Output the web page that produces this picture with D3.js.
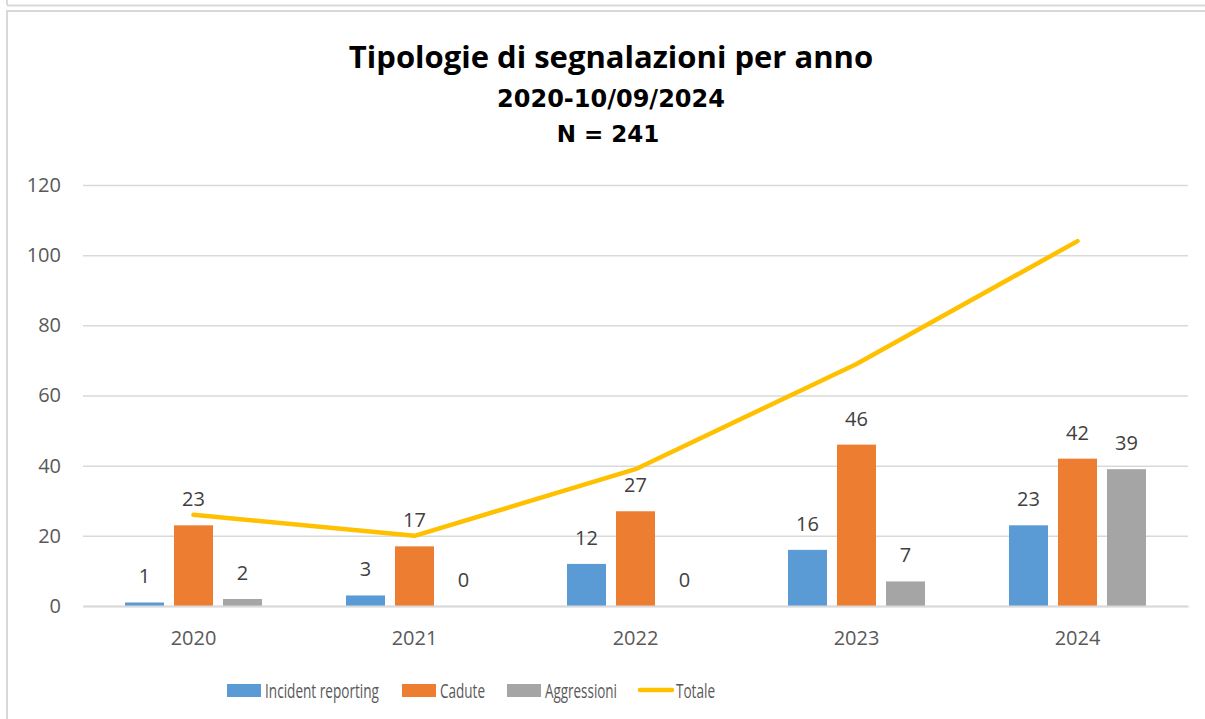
<!DOCTYPE html>
<html>
<head>
<meta charset="utf-8">
<script src="https://cdn.jsdelivr.net/npm/d3@7"></script>
<style>
  body { margin: 0; background: #fff; }
  svg { display: block; font-family: "Open Sans", "Noto Sans", sans-serif; }
</style>
</head>
<body>
<div id="chart"></div>
<script>
// --- Data ---
const years = ["2020", "2021", "2022", "2023", "2024"];
const incidentReporting = [1, 3, 12, 16, 23];
const cadute = [23, 17, 27, 46, 42];
const aggressioni = [2, 0, 0, 7, 39];
const totale = [26, 20, 39, 69, 104];
const yTicks = [0, 20, 40, 60, 80, 100, 120];

const seriesNames = ["Incident reporting", "Cadute", "Aggressioni"];
const seriesColors = ["#5B9BD5", "#ED7D31", "#A5A5A5"];
const lineColor = "#FFC000";

const W = 1205, H = 719;
const margin = { top: 185, right: 17, bottom: 113, left: 83 };
const width = W - margin.left - margin.right;
const height = H - margin.top - margin.bottom;
const labelFont = "'Open Sans', sans-serif";

const svg = d3.select("#chart").append("svg")
    .attr("width", W).attr("height", H);

// frame lines (chart container borders)
svg.append("line").attr("x1", 7).attr("x2", W).attr("y1", 5.5).attr("y2", 5.5)
    .attr("stroke", "#d9d9d9").attr("stroke-width", 2);
svg.append("line").attr("x1", 7).attr("x2", 7).attr("y1", 0).attr("y2", 5)
    .attr("stroke", "#d9d9d9").attr("stroke-width", 2);
svg.append("path").attr("d", `M7,${H} V11 H${W}`)
    .attr("fill", "none").attr("stroke", "#d9d9d9").attr("stroke-width", 2);

// Titles
svg.append("text").attr("x", 611).attr("y", 68).attr("text-anchor", "middle")
    .attr("font-size", 31).attr("font-weight", 700).attr("fill", "#000")
    .text("Tipologie di segnalazioni per anno");
svg.append("text").attr("x", 611).attr("y", 107).attr("text-anchor", "middle")
    .attr("font-family", "'DejaVu Sans', sans-serif")
    .attr("font-size", 24).attr("font-weight", 700).attr("fill", "#000")
    .text("2020-10/09/2024");
svg.append("text").attr("x", 608).attr("y", 142).attr("text-anchor", "middle")
    .attr("font-family", "'DejaVu Sans', sans-serif")
    .attr("font-size", 23).attr("font-weight", 700).attr("fill", "#000")
    .text("N = 241");

const g = svg.append("g").attr("transform", `translate(${margin.left},${margin.top})`);

// Scales
const x = d3.scaleBand().domain(years).range([0, width]).paddingInner(0).paddingOuter(0);
const y = d3.scaleLinear().domain([0, 120]).range([height, 0]);
const barW = 39, barGap = 10;
const x1 = d3.scaleBand().domain(seriesNames).range([0, barW * 3 + barGap * 2]).paddingInner(barGap / (barW + barGap));
const groupOffset = (x.bandwidth() - (barW * 3 + barGap * 2)) / 2;

// Gridlines + y axis
const yAxis = d3.axisLeft(y).tickValues(yTicks).tickSize(-width).tickPadding(22);
g.append("g").call(yAxis)
    .call(s => s.select(".domain").remove())
    .call(s => s.selectAll(".tick line").attr("stroke", "#d9d9d9").attr("stroke-width", 1.5))
    .call(s => s.selectAll(".tick text").attr("fill", "#595959").attr("font-size", 20)
        .attr("font-family", labelFont));

// Bars
const seriesData = [incidentReporting, cadute, aggressioni];
const barRows = [];
years.forEach((yr, i) => {
    seriesNames.forEach((s, j) => {
        barRows.push({ year: yr, series: s, value: seriesData[j][i], color: seriesColors[j] });
    });
});

g.selectAll("rect.bar").data(barRows).join("rect")
    .attr("class", "bar")
    .attr("x", d => x(d.year) + groupOffset + x1(d.series))
    .attr("y", d => y(d.value))
    .attr("width", x1.bandwidth())
    .attr("height", d => height - y(d.value))
    .attr("fill", d => d.color);

// x axis
const xAxis = d3.axisBottom(x).tickSize(0).tickPadding(25);
g.append("g").attr("transform", `translate(0,${height})`).call(xAxis)
    .call(s => s.select(".domain").attr("stroke", "#d9d9d9").attr("stroke-width", 2))
    .call(s => s.selectAll(".tick text").attr("fill", "#595959").attr("font-size", 20)
        .attr("font-family", labelFont));

// Data labels
g.selectAll("text.lbl").data(barRows).join("text")
    .attr("class", "lbl")
    .attr("x", d => x(d.year) + groupOffset + x1(d.series) + x1.bandwidth() / 2)
    .attr("y", d => y(d.value) - 19)
    .attr("text-anchor", "middle")
    .attr("font-size", 20).attr("fill", "#404040")
    .text(d => d.value);

// Totale line
const line = d3.line()
    .x((d, i) => x(years[i]) + x.bandwidth() / 2)
    .y(d => y(d));
g.append("path").datum(totale)
    .attr("d", line)
    .attr("fill", "none")
    .attr("stroke", lineColor)
    .attr("stroke-width", 4.5)
    .attr("stroke-linecap", "round")
    .attr("stroke-linejoin", "round");

// Legend (text squeezed to mimic the narrow original font)
const legendItems = [
    { name: "Incident reporting", color: seriesColors[0], type: "rect", x: 227, w: 114 },
    { name: "Cadute", color: seriesColors[1], type: "rect", x: 402, w: 45 },
    { name: "Aggressioni", color: seriesColors[2], type: "rect", x: 507, w: 72 },
    { name: "Totale", color: lineColor, type: "line", x: 638, w: 39 }
];
const legend = svg.append("g").attr("transform", "translate(0,690)");
legendItems.forEach(it => {
    if (it.type === "rect") {
        legend.append("rect").attr("x", it.x).attr("y", -6).attr("width", 34).attr("height", 13).attr("fill", it.color);
    } else {
        legend.append("line").attr("x1", it.x + 2).attr("x2", it.x + 34).attr("y1", 0).attr("y2", 0)
            .attr("stroke", it.color).attr("stroke-width", 4.5).attr("stroke-linecap", "round");
    }
    legend.append("text").attr("x", it.x + 38).attr("y", 1).attr("dy", "0.35em")
        .attr("font-size", 20).attr("fill", "#595959")
        .attr("textLength", it.w).attr("lengthAdjust", "spacingAndGlyphs")
        .text(it.name);
});
</script>
</body>
</html>
